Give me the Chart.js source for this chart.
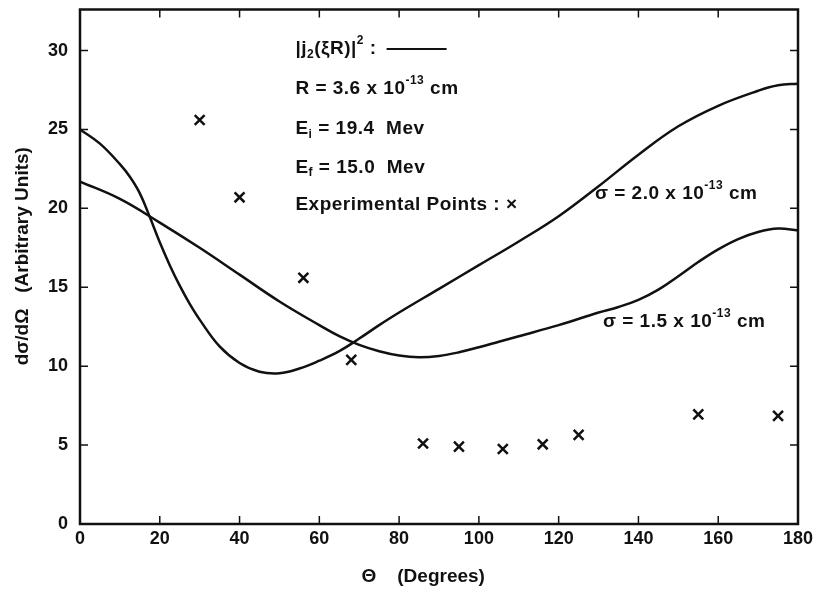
<!DOCTYPE html>
<html>
<head>
<meta charset="utf-8">
<script src="https://cdn.jsdelivr.net/npm/chart.js@4.4.0/dist/chart.umd.min.js"></script>
<style>
  html, body { margin: 0; padding: 0; background: #fff; }
  #wrap { width: 822px; height: 592px; }
</style>
</head>
<body>
<div id="wrap"><canvas id="chart"></canvas></div>
<script>
// values
let xTicks = [0, 20, 40, 60, 80, 100, 120, 140, 160, 180];
let yTicks = [0, 5, 10, 15, 20, 25, 30];

// |j2(kR)|^2 curve, sigma = 2.0 x 10^-13 cm
let sigma20Angles = [0, 5, 10, 12.5, 15, 17.5, 20, 22.5, 25, 27.5, 30, 35, 40, 45, 50, 55, 60, 65, 70, 75, 80, 90, 100, 110, 120, 130, 140, 150, 160, 170, 175, 180];
let sigma20Values = [25.0, 24.1, 22.8, 22.0, 20.95, 19.45, 17.85, 16.4, 15.1, 13.95, 12.95, 11.25, 10.2, 9.65, 9.55, 9.85, 10.35, 10.95, 11.75, 12.6, 13.4, 14.9, 16.4, 17.9, 19.5, 21.4, 23.4, 25.2, 26.5, 27.45, 27.8, 27.9];

// |j2(kR)|^2 curve, sigma = 1.5 x 10^-13 cm
let sigma15Angles = [0, 10, 20, 30, 40, 50, 60, 65, 70, 75, 80, 85, 90, 95, 100, 105, 110, 120, 130, 135, 140, 145, 150, 155, 160, 165, 170, 175, 180];
let sigma15Values = [21.7, 20.6, 19.1, 17.5, 15.8, 14.1, 12.6, 11.9, 11.35, 10.95, 10.68, 10.57, 10.65, 10.88, 11.2, 11.55, 11.9, 12.6, 13.4, 13.75, 14.2, 14.85, 15.7, 16.6, 17.4, 18.05, 18.5, 18.72, 18.6];

// experimental points
let expAngles = [30, 40, 56, 68, 86, 95, 106, 116, 125, 155, 175];
let expValues = [25.6, 20.7, 15.6, 10.4, 5.1, 4.9, 4.75, 5.05, 5.65, 6.95, 6.85];

const ink = '#111';
const fontFamily = '"Liberation Sans", Arial, sans-serif';

function toPoints(xs, ys) {
  return xs.map((x, i) => ({ x: x, y: ys[i] }));
}

// rich text with sub/superscripts
function drawRich(ctx, x, y, parts, size) {
  parts.forEach(p => {
    let small = p.sub || p.sup;
    ctx.font = 'bold ' + (small ? Math.round(size * 0.62) : size) + 'px ' + fontFamily;
    let dy = p.sub ? size * 0.3 : (p.sup ? -size * 0.42 : 0);
    ctx.fillText(p.t, x, y + dy);
    x += ctx.measureText(p.t).width;
  });
  return x;
}

// text in the plot, anchored at data values
let notes = [
  { x: 54, y: 30.1, line: true, parts: [{ t: '|j' }, { t: '2', sub: true }, { t: '(ξR)|' }, { t: '2', sup: true }, { t: ' :' }] },
  { x: 54, y: 27.6, parts: [{ t: 'R = 3.6 x 10' }, { t: '-13', sup: true }, { t: ' cm' }] },
  { x: 54, y: 25.05, parts: [{ t: 'E' }, { t: 'i', sub: true }, { t: ' = 19.4  Mev' }] },
  { x: 54, y: 22.6, parts: [{ t: 'E' }, { t: 'f', sub: true }, { t: ' = 15.0  Mev' }] },
  { x: 54, y: 20.2, parts: [{ t: 'Experimental Points : ×' }] },
  { x: 129.1, y: 20.95, parts: [{ t: 'σ = 2.0 x 10' }, { t: '-13', sup: true }, { t: ' cm' }] },
  { x: 131.1, y: 12.8, parts: [{ t: 'σ = 1.5 x 10' }, { t: '-13', sup: true }, { t: ' cm' }] },
];

const notesPlugin = {
  id: 'notes',
  afterDraw(chart) {
    let ctx = chart.ctx;
    let xs = chart.scales.x, ys = chart.scales.y;
    ctx.save();
    ctx.fillStyle = ink;
    ctx.strokeStyle = ink;
    ctx.textBaseline = 'middle';
    ctx.textAlign = 'left';
    if ('letterSpacing' in ctx) ctx.letterSpacing = '0.5px';
    notes.forEach(n => {
      let px = xs.getPixelForValue(n.x);
      let py = ys.getPixelForValue(n.y);
      let end = drawRich(ctx, px, py, n.parts, 19);
      if (n.line) {
        ctx.lineWidth = 2;
        ctx.beginPath();
        ctx.moveTo(end + 10, py);
        ctx.lineTo(end + 70, py);
        ctx.stroke();
      }
    });
    ctx.restore();
  }
};

// box round the plot with inward ticks
const framePlugin = {
  id: 'frame',
  afterDatasetsDraw(chart) {
    let ctx = chart.ctx;
    let a = chart.chartArea;
    let xs = chart.scales.x, ys = chart.scales.y;
    let len = 8;
    ctx.save();
    ctx.strokeStyle = ink;
    ctx.lineWidth = 1.5;
    ctx.beginPath();
    xTicks.forEach(v => {
      let px = xs.getPixelForValue(v);
      ctx.moveTo(px, a.bottom); ctx.lineTo(px, a.bottom - len);
      ctx.moveTo(px, a.top); ctx.lineTo(px, a.top + len);
    });
    yTicks.forEach(v => {
      let py = ys.getPixelForValue(v);
      ctx.moveTo(a.left, py); ctx.lineTo(a.left + len, py);
      ctx.moveTo(a.right, py); ctx.lineTo(a.right - len, py);
    });
    ctx.stroke();
    ctx.lineWidth = 2.5;
    ctx.strokeRect(a.left, a.top, a.right - a.left, a.bottom - a.top);
    ctx.restore();
  }
};

const tickFont = { family: fontFamily, size: 18, weight: 'bold' };
const titleFont = { family: fontFamily, size: 19, weight: 'bold' };

new Chart(document.getElementById('chart'), {
  type: 'scatter',
  data: {
    datasets: [
      {
        label: 'sigma 2.0',
        data: toPoints(sigma20Angles, sigma20Values),
        showLine: true,
        borderColor: ink,
        borderWidth: 2.5,
        pointRadius: 0,
        tension: 0.4,
      },
      {
        label: 'sigma 1.5',
        data: toPoints(sigma15Angles, sigma15Values),
        showLine: true,
        borderColor: ink,
        borderWidth: 2.5,
        pointRadius: 0,
        tension: 0.4,
      },
      {
        label: 'Experimental Points',
        data: toPoints(expAngles, expValues),
        showLine: false,
        pointStyle: 'crossRot',
        pointRadius: 7,
        borderColor: ink,
        pointBorderWidth: 2.5,
      },
    ],
  },
  options: {
    responsive: true,
    maintainAspectRatio: false,
    animation: false,
    devicePixelRatio: 1,
    layout: { padding: { left: 0, top: 9, right: 24, bottom: 0 } },
    plugins: {
      legend: { display: false },
      tooltip: { enabled: false },
    },
    scales: {
      x: {
        type: 'linear',
        min: 0,
        max: 180,
        grid: { display: false, drawTicks: false },
        border: { display: false },
        afterBuildTicks: scale => { scale.ticks = xTicks.map(v => ({ value: v })); },
        afterFit: scale => {
          scale.height = 68;
          scale.paddingLeft = 0;
          scale.paddingRight = 0;
        },
        ticks: { color: ink, font: tickFont, padding: 4, maxRotation: 0 },
        title: {
          display: true,
          text: 'Θ    (Degrees)      ',
          color: ink,
          font: titleFont,
          padding: { top: 0, bottom: 4 },
        },
      },
      y: {
        type: 'linear',
        min: 0,
        max: 32.6,
        grid: { display: false, drawTicks: false },
        border: { display: false },
        afterBuildTicks: scale => { scale.ticks = yTicks.map(v => ({ value: v })); },
        afterFit: scale => {
          scale.width = 80;
          scale.paddingTop = 0;
          scale.paddingBottom = 0;
        },
        ticks: { color: ink, font: tickFont, padding: 12 },
        title: {
          display: true,
          text: '    dσ/dΩ   (Arbitrary Units)',
          color: ink,
          font: titleFont,
          padding: { top: 11, bottom: 0 },
        },
      },
    },
  },
  plugins: [framePlugin, notesPlugin],
});
</script>
</body>
</html>
